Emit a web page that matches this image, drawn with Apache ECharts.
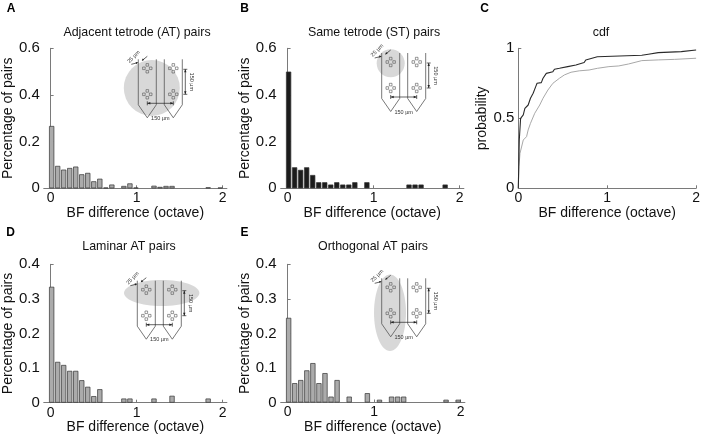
<!DOCTYPE html>
<html>
<head>
<meta charset="utf-8">
<script src="https://cdn.jsdelivr.net/npm/echarts@6.0.0/dist/echarts.min.js"></script>
<style>
html, body { margin: 0; padding: 0; background: #fff; }
#chart { width: 703px; height: 436px; }
</style>
</head>
<body>
<div id="chart"></div>
<script>
// histogram bin centres (octave)
var binCenters = [0.012, 0.082, 0.152, 0.222, 0.292, 0.362, 0.432, 0.502, 0.572, 0.642,
	0.712, 0.782, 0.852, 0.922, 0.992, 1.062, 1.132, 1.202, 1.272, 1.342,
	1.412, 1.482, 1.552, 1.622, 1.692, 1.762, 1.832, 1.902, 1.972];

var atPairs = [0.267, 0.096, 0.080, 0.087, 0.093, 0.060, 0.066, 0.030, 0.041, 0.003,
	0.016, 0, 0.010, 0.021, 0.003, 0, 0, 0.011, 0.006, 0.010,
	0.010, 0, 0, 0, 0, 0, 0.004, 0, 0.003];

var stPairs = [0.500, 0.090, 0.079, 0.090, 0.057, 0.026, 0.026, 0.016, 0.026, 0.016,
	0.016, 0.026, 0, 0.026, 0, 0, 0, 0, 0, 0,
	0.016, 0.016, 0.016, 0, 0, 0, 0.016, 0, 0];

var laminarPairs = [0.335, 0.118, 0.109, 0.092, 0.092, 0.065, 0.046, 0.019, 0.039, 0,
	0, 0, 0.012, 0.012, 0, 0, 0, 0.012, 0, 0,
	0.020, 0, 0, 0, 0, 0, 0.012, 0, 0];

var orthogonalPairs = [0.245, 0.056, 0.065, 0.093, 0.114, 0.056, 0.085, 0.017, 0.065, 0,
	0.017, 0, 0, 0.027, 0, 0.008, 0, 0.017, 0.017, 0.017,
	0, 0, 0, 0, 0, 0, 0.008, 0, 0.008];

// cdf curves
var cdfStX = [0, 0.011, 0.026, 0.056, 0.074, 0.111, 0.137, 0.167, 0.196, 0.211, 0.259, 0.278,
	0.315, 0.333, 0.389, 0.407, 0.463, 0.556, 0.648, 0.741, 0.759, 0.889, 1.389, 1.463,
	1.574, 1.833, 1.852, 2.0];
var cdfStY = [0, 0.345, 0.500, 0.524, 0.571, 0.595, 0.643, 0.679, 0.726, 0.750, 0.755, 0.786,
	0.821, 0.829, 0.833, 0.850, 0.857, 0.869, 0.881, 0.898, 0.917, 0.940, 0.950, 0.958,
	0.969, 0.976, 0.988, 0.988];
var cdfAtX = [0, 0.007, 0.019, 0.056, 0.093, 0.111, 0.137, 0.185, 0.241, 0.278, 0.333, 0.389,
	0.463, 0.519, 0.593, 0.685, 0.796, 0.889, 1.019, 1.130, 1.241, 1.389, 1.574, 1.759, 2.0];
var cdfAtY = [0, 0.155, 0.250, 0.345, 0.369, 0.417, 0.464, 0.536, 0.595, 0.643, 0.702, 0.750,
	0.786, 0.810, 0.829, 0.839, 0.845, 0.857, 0.869, 0.874, 0.888, 0.912, 0.917, 0.921, 0.929];

var xTicks = [0, 1, 2];
var panelLetters = ['A', 'B', 'C', 'D', 'E'];
var panelTitles = ['Adjacent tetrode (AT) pairs', 'Same tetrode (ST) pairs', 'cdf',
	'Laminar AT pairs', 'Orthogonal AT pairs'];
var xName = 'BF difference (octave)';
var yNameHist = 'Percentage of pairs';
var yNameCdf = 'probability';

var FONT = "'Liberation Sans', Arial, Helvetica, sans-serif";
var AXIS = '#7a7a7a';

var grids = [
	{ left: 42.7, top: 48.3, width: 184.2, height: 140 },
	{ left: 280.7, top: 48.3, width: 183.2, height: 140 },
	{ left: 518.3, top: 48.3, width: 180, height: 140 },
	{ left: 42.7, top: 264.3, width: 184.2, height: 138.4 },
	{ left: 280.7, top: 264.3, width: 184.2, height: 138.2 }
];

function histXAxis(idx) {
	return {
		gridIndex: idx, type: 'value', min: -0.08, max: 2.05,
		name: xName, nameLocation: 'middle', nameGap: 17,
		nameTextStyle: { fontFamily: FONT, fontSize: 14, color: '#111' },
		axisLine: { lineStyle: { color: AXIS, width: 1 } },
		axisTick: { inside: true, length: 3, customValues: xTicks, lineStyle: { color: AXIS } },
		axisLabel: { customValues: xTicks, margin: 3, fontFamily: FONT, fontSize: 14, color: '#111' },
		splitLine: { show: false }
	};
}

function yAxisDef(idx, max, step, name, gap) {
	return {
		gridIndex: idx, type: 'value', min: 0, max: max, interval: step,
		name: name, nameLocation: 'middle', nameGap: gap,
		nameTextStyle: { fontFamily: FONT, fontSize: 14, color: '#111' },
		axisLine: { show: true, lineStyle: { color: AXIS, width: 1 } },
		axisTick: { show: true, inside: true, length: 3, lineStyle: { color: AXIS } },
		axisLabel: { margin: 4, fontFamily: FONT, fontSize: 15, color: '#111' },
		splitLine: { show: false }
	};
}

function histSeries(idx, values, fill) {
	var data = [];
	values.forEach(function(v, i) {
		if (v > 0) data.push([binCenters[i], v]);
	});
	return {
		type: 'bar', xAxisIndex: idx, yAxisIndex: idx, data: data,
		barWidth: 5.2, silent: true,
		itemStyle: { color: fill, borderColor: '#333', borderWidth: 0.7 }
	};
}

// small tetrode drawing used as inset, in local px coordinates
function tetrodeInset(x0, y0, highlight) {
	var ln = { stroke: '#555', lineWidth: 0.8, fill: null };
	var kids = [];
	highlight.style = { fill: '#d8d8d8' };
	highlight.silent = true;
	kids.push(highlight);
	[[0, 18], [26, 44]].forEach(function(s) {
		var mid = (s[0] + s[1]) / 2;
		kids.push({ type: 'polyline', shape: { points: [[s[0], 0], [s[0], 45.5], [mid, 58.5], [s[1], 45.5], [s[1], 0]] }, style: ln });
		[9, 35].forEach(function(cy) {
			[[0, -3.4], [-3.4, 0], [3.4, 0], [0, 3.4]].forEach(function(o) {
				kids.push({ type: 'rect', shape: { x: mid + o[0] - 1.3, y: cy + o[1] - 1.3, width: 2.6, height: 2.6 },
					style: { fill: null, stroke: '#555', lineWidth: 0.6 } });
			});
		});
	});
	var dark = { stroke: '#222', lineWidth: 0.7, fill: null };
	// horizontal 150 um
	kids.push({ type: 'line', shape: { x1: 9, y1: 44, x2: 35, y2: 44 }, style: dark });
	kids.push({ type: 'line', shape: { x1: 9, y1: 42, x2: 9, y2: 46 }, style: dark });
	kids.push({ type: 'line', shape: { x1: 35, y1: 42, x2: 35, y2: 46 }, style: dark });
	kids.push({ type: 'polygon', shape: { points: [[9, 44], [12, 42.8], [12, 45.2]] }, style: { fill: '#222' } });
	kids.push({ type: 'polygon', shape: { points: [[35, 44], [32, 42.8], [32, 45.2]] }, style: { fill: '#222' } });
	// vertical 150 um
	kids.push({ type: 'line', shape: { x1: 47, y1: 10, x2: 47, y2: 35 }, style: dark });
	kids.push({ type: 'line', shape: { x1: 45, y1: 10, x2: 49, y2: 10 }, style: dark });
	kids.push({ type: 'line', shape: { x1: 45, y1: 35, x2: 49, y2: 35 }, style: dark });
	kids.push({ type: 'polygon', shape: { points: [[47, 10], [45.8, 13], [48.2, 13]] }, style: { fill: '#222' } });
	kids.push({ type: 'polygon', shape: { points: [[47, 35], [45.8, 32], [48.2, 32]] }, style: { fill: '#222' } });
	// 25 um
	kids.push({ type: 'line', shape: { x1: -7, y1: 5, x2: -1, y2: 3.5 }, style: dark });
	kids.push({ type: 'polygon', shape: { points: [[0, 3.3], [-2.6, 2.6], [-2.2, 4.8]] }, style: { fill: '#222' } });
	kids.push({ type: 'line', shape: { x1: 9, y1: -3, x2: 4, y2: 1 }, style: dark });
	kids.push({ type: 'polygon', shape: { points: [[3.5, 1.5], [4.4, -0.9], [6, 0.8]] }, style: { fill: '#222' } });
	var txt = { fontFamily: FONT, fontSize: 5.5, fill: '#333', align: 'center', verticalAlign: 'middle' };
	kids.push({ type: 'text', x: 22, y: 59, style: Object.assign({ text: '150 µm' }, txt) });
	kids.push({ type: 'text', x: 53.5, y: 22.5, rotation: -Math.PI / 2, style: Object.assign({ text: '150 µm' }, txt) });
	kids.push({ type: 'text', x: -4.5, y: -2.5, rotation: Math.PI / 4, style: Object.assign({ text: '25 µm' }, txt) });
	return { type: 'group', x: x0, y: y0, silent: true, children: kids };
}

var letterPos = [[11, 9], [244.5, 9], [484.5, 9], [10.5, 232.5], [244.5, 232.5]];
var titlePos = [[137, 33], [374, 33], [601, 33], [129, 247], [373, 247]];

var graphics = [];
panelLetters.forEach(function(l, i) {
	graphics.push({ type: 'text', x: letterPos[i][0], y: letterPos[i][1], silent: true,
		style: { text: l, fontFamily: FONT, fontSize: 12, fontWeight: 'bold', fill: '#000', align: 'center', verticalAlign: 'middle' } });
});
panelTitles.forEach(function(t, i) {
	graphics.push({ type: 'text', x: titlePos[i][0], y: titlePos[i][1], silent: true,
		style: { text: t, fontFamily: FONT, fontSize: 12.4, fill: '#111', align: 'center', verticalAlign: 'middle' } });
});
graphics.push(tetrodeInset(138.3, 59.3, { type: 'circle', shape: { cx: 13.5, cy: 28.7, r: 28 } }));
graphics.push(tetrodeInset(381.7, 53, { type: 'circle', shape: { cx: 9, cy: 10.3, r: 14 } }));
graphics.push(tetrodeInset(137.3, 280.7, { type: 'ellipse', shape: { cx: 24.4, cy: 12.3, rx: 37.7, ry: 13 } }));
graphics.push(tetrodeInset(381.7, 278.3, { type: 'ellipse', shape: { cx: 8.3, cy: 34.4, rx: 16, ry: 38.3 } }));

function pairs(xs, ys) {
	return xs.map(function(x, i) { return [x, ys[i]]; });
}

var cdfX = histXAxis(2);
cdfX.min = 0; cdfX.max = 2; cdfX.interval = 1;
delete cdfX.axisTick.customValues;
delete cdfX.axisLabel.customValues;

var option = {
	animation: false,
	backgroundColor: '#fff',
	grid: grids,
	xAxis: [histXAxis(0), histXAxis(1), cdfX, histXAxis(3), histXAxis(4)],
	yAxis: [
		yAxisDef(0, 0.6, 0.2, yNameHist, 26),
		yAxisDef(1, 0.6, 0.2, yNameHist, 26),
		yAxisDef(2, 1, 0.5, yNameCdf, 28),
		yAxisDef(3, 0.4, 0.1, yNameHist, 26),
		yAxisDef(4, 0.4, 0.1, yNameHist, 26)
	],
	series: [
		histSeries(0, atPairs, '#ababab'),
		histSeries(1, stPairs, '#1c1c1c'),
		{ type: 'line', xAxisIndex: 2, yAxisIndex: 2, data: pairs(cdfAtX, cdfAtY), showSymbol: false,
			lineStyle: { color: '#a8a8a8', width: 1 }, silent: true },
		{ type: 'line', xAxisIndex: 2, yAxisIndex: 2, data: pairs(cdfStX, cdfStY), showSymbol: false,
			lineStyle: { color: '#2a2a2a', width: 1.1 }, silent: true },
		histSeries(3, laminarPairs, '#ababab'),
		histSeries(4, orthogonalPairs, '#ababab')
	],
	graphic: graphics
};

var chart = echarts.init(document.getElementById('chart'));
chart.setOption(option);
</script>
</body>
</html>
